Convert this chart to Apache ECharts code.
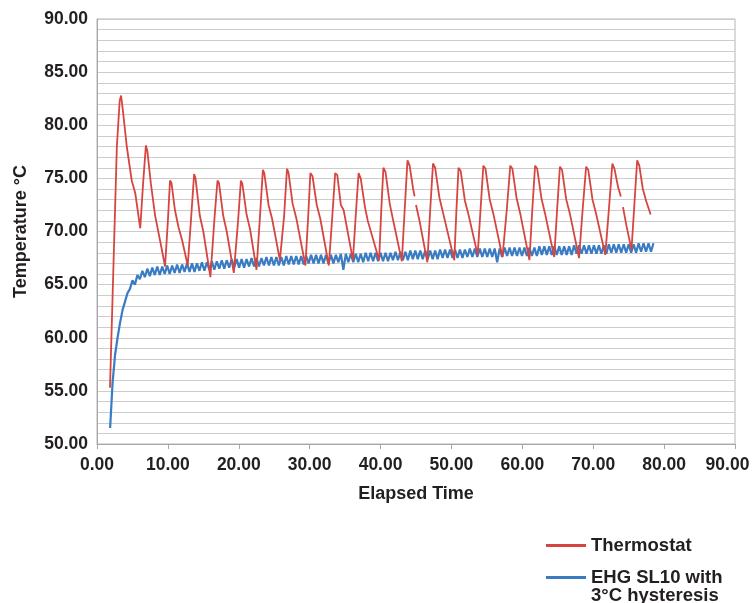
<!DOCTYPE html>
<html>
<head>
<meta charset="utf-8">
<script src="https://cdn.jsdelivr.net/npm/echarts@6/dist/echarts.min.js"></script>
<style>
html,body{margin:0;padding:0;background:#fff;}
#chart{width:752px;height:603px;}
</style>
</head>
<body>
<div id="chart"></div>
<script>
// ---- data ----
const xTicks = [0, 10, 20, 30, 40, 50, 60, 70, 80, 90];
const yTicks = [50, 55, 60, 65, 70, 75, 80, 85, 90];

const redName = 'Thermostat';
const blueName = 'EHG SL10 with\n3°C hysteresis';

const redTimes = [1.83,2.2,2.8,3.2,3.4,3.7,4.2,4.9,5.4,6.1,6.5,6.9,7.1,7.6,8.2,9.0,9.6,
10.0,10.3,10.5,11.0,11.5,12.0,12.8,
13.3,13.7,13.9,14.5,15.0,16.0,
16.6,17.0,17.2,17.8,18.3,19.3,
19.9,20.3,20.5,21.1,21.6,22.5,
23.0,23.4,23.6,24.2,24.7,25.8,
26.4,26.8,27.0,27.6,28.1,29.4,
29.8,30.1,30.4,31.0,31.5,32.7,
33.2,33.6,33.9,34.4,34.8,36.1,
36.5,36.9,37.2,37.8,38.2,39.8,
40.1,40.4,40.7,41.3,41.7,43.0,
43.4,43.8,44.1,44.6,44.8,44.9,45.0,45.5,46.6,
47.0,47.4,47.7,48.3,48.8,50.4,
50.7,51.0,51.3,51.9,52.4,53.7,
54.1,54.5,54.8,55.4,55.9,57.2,
57.8,58.3,58.6,59.2,59.7,61.0,
61.4,61.8,62.1,62.7,63.2,64.5,
64.9,65.3,65.6,66.2,66.7,68.0,
68.5,69.0,69.3,69.9,70.4,71.7,
72.2,72.7,73.0,73.5,73.9,74.05,74.2,74.7,75.4,
75.8,76.2,76.5,77.0,77.5,78.1];

const redTemps = [55.3,63.9,78.0,82.3,82.8,81.1,78.0,74.8,73.6,70.3,74.5,78.1,77.6,74.5,71.5,68.8,66.7,
71.0,74.8,74.6,72.0,70.4,69.2,66.8,
71.5,75.4,75.0,71.5,70.0,65.7,
71.5,74.8,74.6,71.5,70.0,66.1,
71.0,74.8,74.5,71.6,70.2,66.4,
71.5,75.8,75.5,72.5,71.2,67.3,
71.5,75.9,75.6,72.6,71.3,66.8,
71.5,75.5,75.2,72.5,71.2,66.8,
71.5,75.5,75.3,72.5,72.0,67.3,
71.5,75.5,75.0,72.3,71.0,67.3,
72.0,76.0,75.6,72.6,71.3,67.2,
72.0,76.7,76.2,74.0,73.3,null,72.5,71.0,67.1,
72.0,76.4,76.0,73.2,71.8,67.3,
72.0,76.0,75.7,72.9,71.6,67.8,
72.0,76.2,75.9,73.0,71.7,67.6,
72.0,76.2,75.9,73.1,71.7,67.3,
72.0,76.2,75.9,73.1,71.7,67.6,
72.0,76.1,75.8,73.0,71.7,67.5,
72.0,76.1,75.8,73.0,71.7,67.8,
72.0,76.4,75.9,74.2,73.3,null,72.3,70.5,68.3,
72.5,76.7,76.2,74.0,72.8,71.6];

// blue series sampled on a regular time grid
const blueStart = 1.85;
const blueStep = 0.35;
const blueTemps = [51.5,55.8,58.4,60.0,61.4,62.6,63.4,64.2,64.6,65.4,65.0,65.9,65.5,66.3,65.7,
66.5,65.8,66.6,65.9,66.7,65.9,66.7,66.0,66.8,66.0,
66.8,66.1,66.9,66.1,66.9,66.2,67.0,66.2,67.0,66.2,
67.0,66.3,67.1,66.3,67.1,66.4,67.2,66.4,67.2,66.5,
67.3,66.5,67.3,66.6,67.4,66.6,67.4,66.6,67.4,66.6,
67.4,66.7,67.5,66.7,67.5,66.7,67.5,66.8,67.6,66.8,
67.6,66.8,67.6,66.8,67.6,66.8,67.7,66.9,67.7,66.9,
67.7,66.9,67.7,66.9,67.7,67.0,67.8,67.0,67.8,67.0,
67.8,67.0,67.8,67.0,67.8,67.0,67.8,67.1,67.9,66.4,
67.9,67.1,67.9,67.1,67.9,67.1,67.9,67.1,68.0,67.2,
68.0,67.2,68.0,67.2,68.0,67.2,68.0,67.2,68.0,67.3,
68.1,67.3,68.1,67.3,68.1,67.3,68.2,67.4,68.2,67.4,
68.2,67.4,68.2,67.4,68.2,67.4,68.2,67.4,68.3,67.5,
68.3,67.5,68.3,67.5,68.3,67.5,68.3,67.5,68.3,67.6,
68.4,67.6,68.4,67.6,68.4,67.6,68.4,67.6,68.4,67.6,
68.4,67.1,68.4,67.6,68.5,67.7,68.5,67.7,68.5,67.7,
68.5,67.7,68.5,67.7,68.5,67.7,68.5,67.7,68.6,67.8,
68.6,67.8,68.6,67.8,68.6,67.8,68.6,67.8,68.6,67.8,
68.6,67.8,68.7,67.9,68.7,67.9,68.7,67.9,68.7,67.9,
68.7,67.9,68.7,67.9,68.7,67.9,68.8,68.0,68.8,68.0,
68.8,68.0,68.8,68.0,68.8,68.0,68.8,68.0,68.9,68.1,
68.9,68.1,68.9,68.1,68.9];

// ---- build series data ----
const redData = redTimes.map((t, i) => [t, redTemps[i] === null ? '-' : redTemps[i]]);
const blueData = blueTemps.map((v, i) => [+(blueStart + i * blueStep).toFixed(2), v]);

const FONT = '"Liberation Sans", Arial, Helvetica, sans-serif';
const TXT = '#231f20';
const RED = '#d6453f';
const BLUE = '#3a7cc3';
const xMax = xTicks[xTicks.length - 1];

const chart = echarts.init(document.getElementById('chart'), null, {renderer: 'canvas'});
chart.setOption({
  backgroundColor: '#fff',
  animation: false,
  textStyle: {fontFamily: FONT},
  grid: {left: 97, right: 17, top: 19, bottom: 159, outerBoundsMode: 'none', containLabel: false,
    show: true, borderColor: '#b4b4b4', borderWidth: 1, backgroundColor: 'transparent'},
  legend: [
    {
      left: 546, top: 536, padding: 0, itemWidth: 40, itemHeight: 3, icon: 'rect',
      textStyle: {fontFamily: FONT, fontSize: 18.5, fontWeight: 'bold', color: TXT, lineHeight: 18},
      data: [{name: redName}]
    },
    {
      left: 546, top: 550, padding: 0, itemWidth: 40, itemHeight: 3, icon: 'rect',
      formatter: n => ' \n' + n,
      textStyle: {fontFamily: FONT, fontSize: 18.5, fontWeight: 'bold', color: TXT, lineHeight: 18},
      data: [{name: blueName}]
    }
  ],
  xAxis: {
    type: 'value', min: xTicks[0], max: xMax, interval: 10,
    name: 'Elapsed Time', nameLocation: 'middle', nameGap: 41,
    nameTextStyle: {fontFamily: FONT, fontSize: 18, fontWeight: 'bold', color: TXT},
    axisLine: {show: true, lineStyle: {color: '#a8a8a8', width: 1}},
    axisTick: {show: true, length: 5, lineStyle: {color: '#a8a8a8'}},
    axisLabel: {margin: 12, fontFamily: FONT, fontSize: 17.5, fontWeight: 'bold', color: TXT,
      formatter: v => (v === xMax ? '{last|' + v.toFixed(2) + '}' : v.toFixed(2)),
      rich: {last: {fontFamily: FONT, fontSize: 17.5, fontWeight: 'bold', color: TXT, padding: [0, 15, 0, 0]}}},
    splitLine: {show: false}
  },
  yAxis: {
    type: 'value', min: yTicks[0], max: yTicks[yTicks.length - 1], interval: 1,
    name: 'Temperature °C', nameLocation: 'middle', nameGap: 67, nameRotate: 90,
    nameTextStyle: {fontFamily: FONT, fontSize: 18, fontWeight: 'bold', color: TXT},
    axisLine: {show: true, lineStyle: {color: '#a8a8a8', width: 1}},
    axisTick: {show: false},
    axisLabel: {margin: 9, fontFamily: FONT, fontSize: 17.5, fontWeight: 'bold', color: TXT,
      formatter: v => (yTicks.indexOf(v) >= 0 ? v.toFixed(2) : '')},
    splitLine: {show: true, lineStyle: {color: '#cccccc', width: 1.2}}
  },
  series: [
    {
      name: blueName, type: 'line', data: blueData, showSymbol: false, symbol: 'none',
      lineStyle: {color: BLUE, width: 2.2}, itemStyle: {color: BLUE}, z: 2
    },
    {
      name: redName, type: 'line', data: redData, showSymbol: false, symbol: 'none', connectNulls: false,
      lineStyle: {color: RED, width: 1.8}, itemStyle: {color: RED}, z: 3
    }
  ]
});
</script>
</body>
</html>
